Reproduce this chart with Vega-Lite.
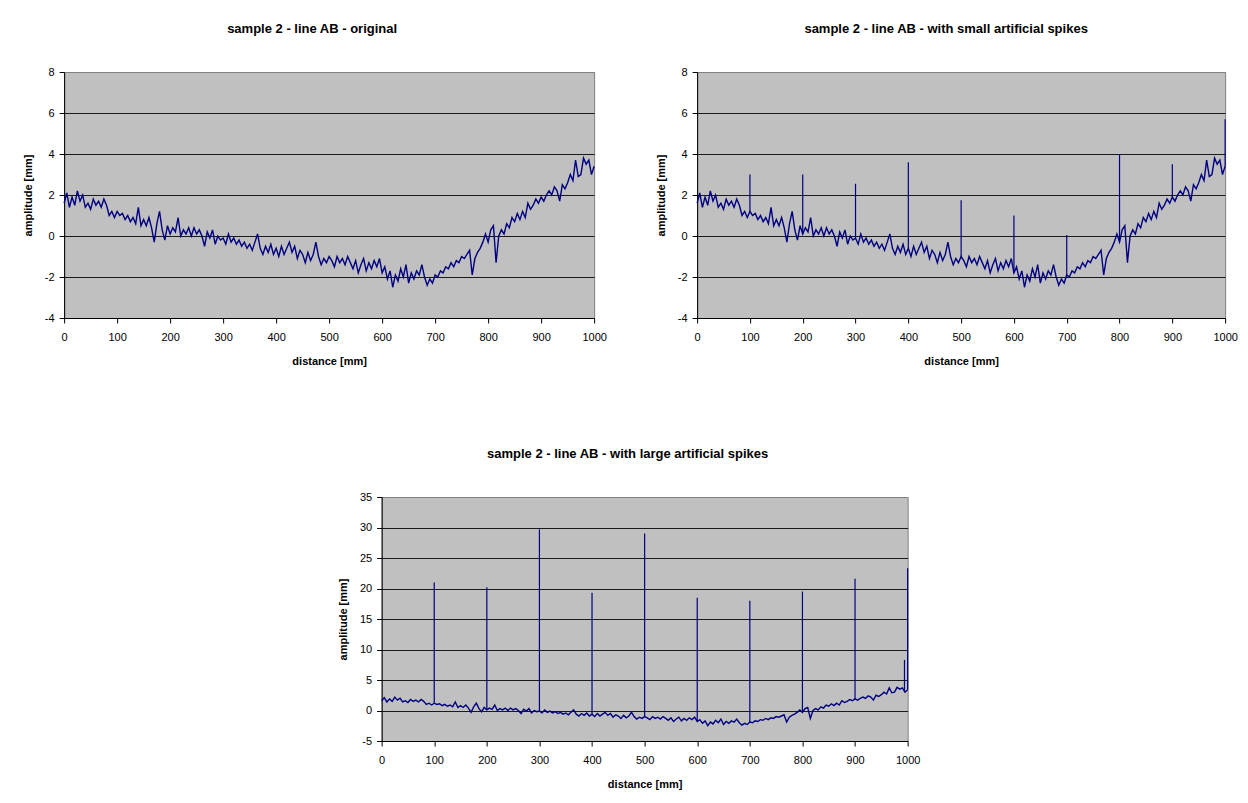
{
  "$schema": "https://vega.github.io/schema/vega-lite/v6.json",
  "autosize": {"type": "pad"},
  "padding": {"left": 21, "top": 22, "right": 0, "bottom": 0},
  "background": "#ffffff",
  "datasets": {
    "base": [
      {"x":0,"y":1.6},{"x":5,"y":2.1},{"x":10,"y":1.4},{"x":15,"y":1.9},{"x":20,"y":1.5},{"x":25,"y":2.2},{"x":30,"y":1.7},{"x":35,"y":2.0},{"x":40,"y":1.4},{"x":45,"y":1.6},
      {"x":50,"y":1.3},{"x":55,"y":1.8},{"x":60,"y":1.5},{"x":65,"y":1.7},{"x":70,"y":1.4},{"x":75,"y":1.8},{"x":80,"y":1.5},{"x":85,"y":1.0},{"x":90,"y":1.2},{"x":95,"y":0.9},
      {"x":100,"y":1.2},{"x":105,"y":1.0},{"x":110,"y":1.1},{"x":115,"y":0.8},{"x":120,"y":1.0},{"x":125,"y":0.7},{"x":130,"y":0.9},{"x":135,"y":0.6},{"x":140,"y":1.4},{"x":145,"y":0.5},
      {"x":150,"y":0.8},{"x":155,"y":0.5},{"x":160,"y":0.9},{"x":165,"y":0.4},{"x":170,"y":-0.3},{"x":175,"y":0.6},{"x":180,"y":1.2},{"x":185,"y":0.3},{"x":190,"y":-0.2},{"x":195,"y":0.5},
      {"x":200,"y":0.1},{"x":205,"y":0.4},{"x":210,"y":0.2},{"x":215,"y":0.9},{"x":220,"y":0.0},{"x":225,"y":0.3},{"x":230,"y":0.1},{"x":235,"y":0.4},{"x":240,"y":0.0},{"x":245,"y":0.4},
      {"x":250,"y":0.1},{"x":255,"y":0.3},{"x":260,"y":0.0},{"x":265,"y":-0.5},{"x":270,"y":0.2},{"x":275,"y":-0.1},{"x":280,"y":0.3},{"x":285,"y":-0.4},{"x":290,"y":0.0},{"x":295,"y":-0.2},
      {"x":300,"y":-0.1},{"x":305,"y":-0.4},{"x":310,"y":0.1},{"x":315,"y":-0.3},{"x":320,"y":-0.1},{"x":325,"y":-0.4},{"x":330,"y":-0.2},{"x":335,"y":-0.5},{"x":340,"y":-0.3},{"x":345,"y":-0.6},
      {"x":350,"y":-0.4},{"x":355,"y":-0.7},{"x":360,"y":-0.3},{"x":365,"y":0.1},{"x":370,"y":-0.6},{"x":375,"y":-0.9},{"x":380,"y":-0.5},{"x":385,"y":-0.8},{"x":390,"y":-0.4},{"x":395,"y":-0.9},
      {"x":400,"y":-0.6},{"x":405,"y":-1.0},{"x":410,"y":-0.5},{"x":415,"y":-0.9},{"x":420,"y":-0.6},{"x":425,"y":-0.3},{"x":430,"y":-0.8},{"x":435,"y":-0.5},{"x":440,"y":-1.1},{"x":445,"y":-0.7},
      {"x":450,"y":-0.9},{"x":455,"y":-1.3},{"x":460,"y":-0.8},{"x":465,"y":-1.2},{"x":470,"y":-0.9},{"x":475,"y":-0.3},{"x":480,"y":-1.0},{"x":485,"y":-1.4},{"x":490,"y":-1.1},{"x":495,"y":-1.3},
      {"x":500,"y":-1.0},{"x":505,"y":-1.2},{"x":510,"y":-1.5},{"x":515,"y":-1.0},{"x":520,"y":-1.3},{"x":525,"y":-1.1},{"x":530,"y":-1.4},{"x":535,"y":-1.0},{"x":540,"y":-1.3},{"x":545,"y":-1.6},
      {"x":550,"y":-1.2},{"x":555,"y":-1.8},{"x":560,"y":-1.4},{"x":565,"y":-1.1},{"x":570,"y":-1.7},{"x":575,"y":-1.3},{"x":580,"y":-1.6},{"x":585,"y":-1.2},{"x":590,"y":-1.5},{"x":595,"y":-1.1},
      {"x":600,"y":-1.8},{"x":605,"y":-1.5},{"x":610,"y":-2.1},{"x":615,"y":-1.7},{"x":620,"y":-2.5},{"x":625,"y":-1.9},{"x":630,"y":-2.2},{"x":635,"y":-1.6},{"x":640,"y":-2.0},{"x":645,"y":-1.4},
      {"x":650,"y":-2.3},{"x":655,"y":-1.8},{"x":660,"y":-2.1},{"x":665,"y":-1.7},{"x":670,"y":-1.9},{"x":675,"y":-1.4},{"x":680,"y":-2.0},{"x":685,"y":-2.4},{"x":690,"y":-2.1},{"x":695,"y":-2.3},
      {"x":700,"y":-1.9},{"x":705,"y":-2.0},{"x":710,"y":-1.7},{"x":715,"y":-1.8},{"x":720,"y":-1.5},{"x":725,"y":-1.6},{"x":730,"y":-1.3},{"x":735,"y":-1.5},{"x":740,"y":-1.2},{"x":745,"y":-1.3},
      {"x":750,"y":-1.0},{"x":755,"y":-1.1},{"x":760,"y":-0.9},{"x":765,"y":-0.7},{"x":770,"y":-1.9},{"x":775,"y":-1.1},{"x":780,"y":-0.8},{"x":785,"y":-0.6},{"x":790,"y":-0.3},{"x":795,"y":0.1},
      {"x":800,"y":-0.3},{"x":805,"y":0.3},{"x":810,"y":0.5},{"x":815,"y":-1.3},{"x":820,"y":0.0},{"x":825,"y":0.3},{"x":830,"y":0.1},{"x":835,"y":0.6},{"x":840,"y":0.4},{"x":845,"y":0.9},
      {"x":850,"y":0.7},{"x":855,"y":1.1},{"x":860,"y":0.8},{"x":865,"y":1.2},{"x":870,"y":0.9},{"x":875,"y":1.6},{"x":880,"y":1.3},{"x":885,"y":1.5},{"x":890,"y":1.8},{"x":895,"y":1.6},
      {"x":900,"y":1.9},{"x":905,"y":1.7},{"x":910,"y":2.0},{"x":915,"y":2.2},{"x":920,"y":2.0},{"x":925,"y":2.4},{"x":930,"y":2.2},{"x":935,"y":1.7},{"x":940,"y":2.5},{"x":945,"y":2.3},
      {"x":950,"y":2.6},{"x":955,"y":3.0},{"x":960,"y":2.7},{"x":965,"y":3.7},{"x":970,"y":2.9},{"x":975,"y":3.0},{"x":980,"y":3.8},{"x":985,"y":3.5},{"x":990,"y":3.7},{"x":995,"y":3.0},
      {"x":1000,"y":3.4}
    ],
    "spikes": [
      {"x":100,"base":1.2,"small":3.0,"large":21.0},
      {"x":200,"base":0.1,"small":3.0,"large":20.2},
      {"x":300,"base":-0.1,"small":2.55,"large":29.7},
      {"x":400,"base":-0.6,"small":3.6,"large":19.3},
      {"x":500,"base":-1.0,"small":1.75,"large":29.0},
      {"x":600,"base":-1.8,"small":1.0,"large":18.5},
      {"x":700,"base":-1.9,"small":0.05,"large":18.0},
      {"x":800,"base":-0.3,"small":4.0,"large":19.5},
      {"x":900,"base":1.9,"small":3.5,"large":21.6},
      {"x":994,"base":3.2,"small":null,"large":8.3},
      {"x":1000,"base":3.4,"small":5.7,"large":23.3}
    ]
  },
  "vconcat": [
    {
      "hconcat": [
        {
          "width": 530, "height": 246,
          "title": {"text": "sample 2 - line AB - original", "dx": -17},
          "encoding": {
            "x": {"field": "x", "type": "quantitative", "scale": {"domain": [0, 1000], "nice": false}, "axis": {"values": [0,100,200,300,400,500,600,700,800,900,1000], "title": "distance [mm]"}}
          },
          "layer": [
            {
              "data": {"name": "base"},
              "mark": {"type": "line", "color": "#000080", "strokeWidth": 1.4},
              "encoding": {
                "y": {"field": "y", "type": "quantitative", "scale": {"domain": [-4, 8], "nice": false}, "axis": {"values": [-4,-2,0,2,4,6,8], "title": "amplitude [mm]", "gridColor": {"condition": {"test": "datum.value == 8", "value": "#808080"}, "value": "#1a1a1a"}}}
              }
            }
          ]
        },
        {
          "width": 528, "height": 246,
          "title": {"text": "sample 2 - line AB - with small artificial spikes", "dx": -15},
          "encoding": {
            "x": {"field": "x", "type": "quantitative", "scale": {"domain": [0, 1000], "nice": false}, "axis": {"values": [0,100,200,300,400,500,600,700,800,900,1000], "title": "distance [mm]"}}
          },
          "layer": [
            {
              "data": {"name": "base"},
              "mark": {"type": "line", "color": "#000080", "strokeWidth": 1.4},
              "encoding": {
                "y": {"field": "y", "type": "quantitative", "scale": {"domain": [-4, 8], "nice": false}, "axis": {"values": [-4,-2,0,2,4,6,8], "title": "amplitude [mm]", "gridColor": {"condition": {"test": "datum.value == 8", "value": "#808080"}, "value": "#1a1a1a"}}}
              }
            },
            {
              "data": {"name": "spikes"},
              "transform": [{"filter": "datum.small != null"}],
              "mark": {"type": "rule", "color": "#000080", "strokeWidth": 1.2},
              "encoding": {
                "y": {"field": "small", "type": "quantitative", "scale": {"domain": [-4, 8], "nice": false}, "axis": {"values": [-4,-2,0,2,4,6,8], "title": "amplitude [mm]", "gridColor": {"condition": {"test": "datum.value == 8", "value": "#808080"}, "value": "#1a1a1a"}}},
                "y2": {"field": "base"}
              }
            }
          ]
        }
      ],
      "spacing": 103,
      "bounds": "flush"
    },
    {
      "width": 526, "height": 244,
      "title": {"text": "sample 2 - line AB - with large artificial spikes", "dx": -17},
      "encoding": {
        "x": {"field": "x", "type": "quantitative", "scale": {"domain": [0, 1000], "nice": false}, "axis": {"values": [0,100,200,300,400,500,600,700,800,900,1000], "title": "distance [mm]"}}
      },
      "layer": [
        {
          "data": {"name": "base"},
          "mark": {"type": "line", "color": "#000080", "strokeWidth": 1.4},
          "encoding": {
            "y": {"field": "y", "type": "quantitative", "scale": {"domain": [-5, 35], "nice": false}, "axis": {"values": [-5,0,5,10,15,20,25,30,35], "title": "amplitude [mm]", "gridColor": {"condition": {"test": "datum.value == 35", "value": "#808080"}, "value": "#1a1a1a"}}}
          }
        },
        {
          "data": {"name": "spikes"},
          "mark": {"type": "rule", "color": "#000080", "strokeWidth": 1.2},
          "encoding": {
            "y": {"field": "large", "type": "quantitative", "scale": {"domain": [-5, 35], "nice": false}, "axis": {"values": [-5,0,5,10,15,20,25,30,35], "title": "amplitude [mm]", "gridColor": {"condition": {"test": "datum.value == 35", "value": "#808080"}, "value": "#1a1a1a"}}},
            "y2": {"field": "base"}
          }
        }
      ]
    }
  ],
  "spacing": 80,
  "center": true,
  "config": {
    "font": "Liberation Sans",
    "view": {"fill": "#C0C0C0", "stroke": "#808080", "strokeWidth": 1},
    "axis": {
      "domainColor": "#000000", "domainWidth": 1,
      "tickColor": "#000000", "tickSize": 5, "tickWidth": 1,
      "labelColor": "#000000", "labelFont": "Liberation Sans", "labelFontSize": 11,
      "titleColor": "#000000", "titleFont": "Liberation Sans", "titleFontSize": 11, "titleFontWeight": "bold",
      "labelFlush": false, "labelOverlap": false, "labelExpr": "'' + datum.value"
    },
    "axisX": {"grid": false, "labelPadding": 8, "titlePadding": 13},
    "axisY": {"grid": true, "gridWidth": 1, "labelPadding": 5, "titlePadding": 11},
    "title": {"font": "Liberation Sans", "fontSize": 13, "fontWeight": "bold", "color": "#000000", "anchor": "middle", "frame": "group", "offset": 30}
  }
}
